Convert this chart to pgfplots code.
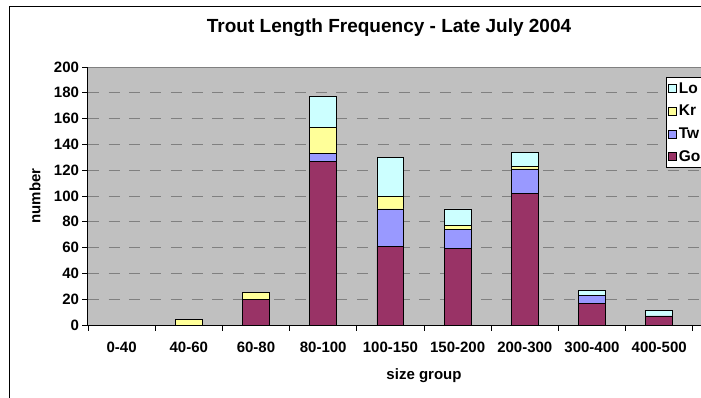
\documentclass[border=0pt]{standalone}
\usepackage{fontspec}
\setmainfont{Liberation Sans}
\usepackage{pgfplots}
\pgfplotsset{compat=1.18}

\definecolor{goC}{HTML}{993366}
\definecolor{twC}{HTML}{9999FF}
\definecolor{krC}{HTML}{FFFF99}
\definecolor{loC}{HTML}{CCFFFF}
\definecolor{plotbg}{HTML}{C0C0C0}

\begin{document}
\begin{tikzpicture}
\path[use as bounding box] (-88pt,-72pt) rectangle (613pt,325pt);
\clip (-88pt,-72pt) rectangle (613pt,325pt);
% chart area frame (runs off the right and bottom edges)
\draw[line width=0.8pt, fill=white] (-78.5pt,-120pt) rectangle (720pt,319pt);
\begin{axis}[
    scale only axis,
    width=672pt, height=258pt,
    ybar stacked,
    bar width=0.4,
    xmin=-0.5, xmax=9.5,
    ymin=0, ymax=200,
    xtick={0,...,8},
    xticklabels={0-40,40-60,60-80,80-100,100-150,150-200,200-300,300-400,400-500},
    minor xtick={-0.5,0.5,...,9.5},
    ytick={0,20,...,200},
    axis x line*=bottom,
    axis y line*=left,
    axis line style={line width=1pt, black},
    tick align=outside,
    major tick length=5.5pt,
    minor tick length=5.5pt,
    major x tick style={draw=none},
    every tick/.style={black, line width=0.8pt},
    ymajorgrids,
    grid style={gray, line width=1pt, dash pattern=on 11pt off 9.7pt},
    axis background/.style={fill=plotbg},
    tick label style={font=\fontsize{15}{17}\selectfont\bfseries},
    xticklabel style={yshift=-8pt},
    /pgf/number format/assume math mode=true,
    title={Trout Length Frequency - Late July 2004},
    title style={font=\fontsize{19}{22}\selectfont\bfseries,
        at={(axis description cs:0.448,1.128)}, anchor=center},
    xlabel={size group},
    ylabel={number},
    label style={font=\fontsize{15}{17}\selectfont\bfseries},
    xlabel style={at={(axis description cs:0.5,-0.198)}, anchor=center},
    ylabel style={at={(axis description cs:-0.0789,0.5)}, anchor=center},
    reverse legend,
    legend cell align=left,
    legend image code/.code={\draw[#1, line width=0.6pt] (0pt,-4pt) rectangle (8pt,4pt);},
    legend style={at={(axis description cs:0.860,0.961)}, anchor=north west,
        fill=white, draw=black, line width=0.8pt,
        font=\fontsize{15.5}{17}\selectfont\bfseries,
        row sep=6.5pt, inner xsep=2pt, inner ysep=3pt},
    every axis plot/.append style={draw=black, line width=0.8pt},
]
\addplot[fill=goC] coordinates {(0,0)(1,0)(2,20)(3,127)(4,61)(5,59)(6,102)(7,17)(8,7)};
\addplot[fill=twC] coordinates {(0,0)(1,0)(2,0)(3,6)(4,29)(5,15)(6,19)(7,6)(8,0)};
\addplot[fill=krC] coordinates {(0,0)(1,4)(2,5)(3,20)(4,10)(5,3)(6,2)(7,0)(8,0)};
\addplot[fill=loC] coordinates {(0,0)(1,0)(2,0)(3,24)(4,30)(5,13)(6,11)(7,4)(8,4)};
\legend{Go\hspace{20pt}, Tw\hspace{20pt}, Kr\hspace{20pt}, Lo\hspace{20pt}}
\draw[gray, line width=1pt] (rel axis cs:0,1) -- (rel axis cs:1,1);
\end{axis}
\end{tikzpicture}
\end{document}
